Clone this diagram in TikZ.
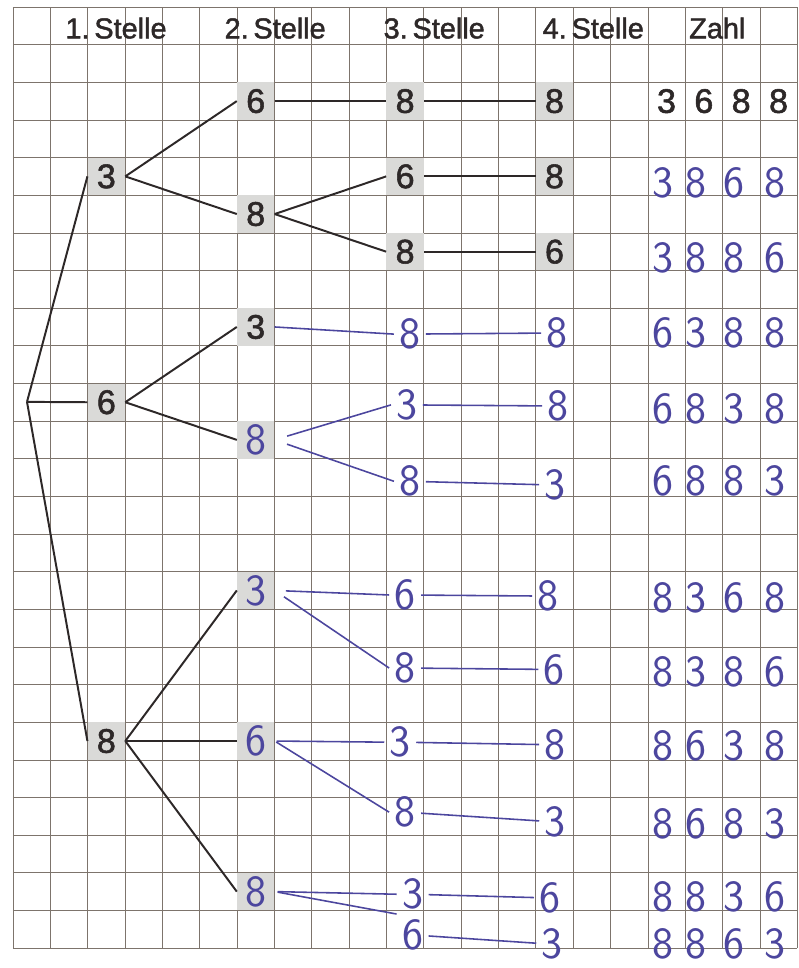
\documentclass[tikz,border=0pt]{standalone}
\usepackage{fontspec}
\setmainfont{Liberation Sans}
\newfontfamily\printfont{Liberation Sans}[FakeBold=1.6]

\definecolor{ink}{RGB}{45,40,40}
\definecolor{pen}{RGB}{76,70,158}
\definecolor{boxgray}{RGB}{218,218,216}
\definecolor{gridcol}{RGB}{125,116,108}

\tikzset{
  gridline/.style={gridcol, line width=0.5pt},
  head/.style={font=\printfont\fontsize{22}{26}\selectfont, text=ink},
  digitbox/.style={fill=boxgray, minimum width=1cm, minimum height=1cm, inner sep=0pt,
    font=\printfont\fontsize{26}{30}\selectfont, text=ink},
  hwbox/.style={digitbox, font=\sffamily\fontsize{34}{36}\selectfont, text=pen},
  hw/.style={inner sep=4pt, font=\sffamily\fontsize{34}{36}\selectfont, text=pen},
  printline/.style={ink, line width=1.5pt},
  penline/.style={pen, line width=1.2pt},
}

\begin{document}
\begin{tikzpicture}[x=1cm, y=-1.008cm]
    \useasboundingbox (-0.348,-0.186) rectangle (21.03,25.53);

    % Grid
    \foreach \c in {0,...,21} \draw[gridline] (\c,0) -- (\c,25);
    \foreach \r in {0,...,25} \draw[gridline] (0,\r) -- (21,\r);

    % Header
    \node[head] (h1) at (2.76,0.56) {1.\,Stelle};
    \node[head] (h2) at (7.02,0.56) {2.\,Stelle};
    \node[head] (h3) at (11.28,0.56) {3.\,Stelle};
    \node[head] (h4) at (15.54,0.56) {4.\,Stelle};
    \node[head] (h5) at (18.86,0.56) {Zahl};

    % 1. Stelle
    \coordinate (root) at (0.375,10.49);
    \node[digitbox] (a3) at (2.5,4.5) {3};
    \node[digitbox] (a6) at (2.5,10.5) {6};
    \node[digitbox] (a8) at (2.5,19.5) {8};

    % 2. Stelle
    \node[digitbox] (b1) at (6.5,2.5) {6};
    \node[digitbox] (b2) at (6.5,5.5) {8};
    \node[digitbox] (b3) at (6.5,8.5) {3};
    \node[hwbox] (b4) at (6.5,11.5) {8};
    \node[hwbox] (b5) at (6.5,15.5) {3};
    \node[hwbox] (b6) at (6.5,19.5) {6};
    \node[hwbox] (b7) at (6.5,23.5) {8};

    % 3. Stelle
    \node[digitbox] (c1) at (10.5,2.5) {8};
    \node[digitbox] (c2) at (10.5,4.5) {6};
    \node[digitbox] (c3) at (10.5,6.5) {8};
    \node[hw] (c4) at (10.63,8.69) {8};
    \node[hw] (c5) at (10.55,10.57) {3};
    \node[hw] (c6) at (10.63,12.6) {8};
    \node[hw] (c7) at (10.5,15.62) {6};
    \node[hw] (c8) at (10.5,17.56) {8};
    \node[hw] (c9) at (10.37,19.53) {3};
    \node[hw] (c10) at (10.5,21.39) {8};
    \node[hw] (c11) at (10.7,23.57) {3};
    \node[hw] (c12) at (10.7,24.65) {6};

    % 4. Stelle
    \node[digitbox] (d1) at (14.5,2.5) {8};
    \node[digitbox] (d2) at (14.5,4.5) {8};
    \node[digitbox] (d3) at (14.5,6.5) {6};
    \node[hw] (d4) at (14.57,8.66) {8};
    \node[hw] (d5) at (14.6,10.6) {8};
    \node[hw] (d6) at (14.52,12.7) {3};
    \node[hw] (d7) at (14.33,15.65) {8};
    \node[hw] (d8) at (14.5,17.6) {6};
    \node[hw] (d9) at (14.52,19.6) {8};
    \node[hw] (d10) at (14.52,21.65) {3};
    \node[hw] (d11) at (14.38,23.67) {6};
    \node[hw] (d12) at (14.44,24.9) {3};

    % Printed lines
    \draw[printline] (root) -- (a3.west);
    \draw[printline] (root) -- (a6.west);
    \draw[printline] (root) -- (a8.west);
    \draw[printline] (a3.east) -- (b1.west);
    \draw[printline] (a3.east) -- (b2.west);
    \draw[printline] (a6.east) -- (b3.west);
    \draw[printline] (a6.east) -- (b4.west);
    \draw[printline] (a8.east) -- (b5.west);
    \draw[printline] (a8.east) -- (b6.west);
    \draw[printline] (a8.east) -- (b7.west);
    \draw[printline] (b1) -- (c1) -- (d1);
    \draw[printline] (b2.east) -- (c2.west);
    \draw[printline] (b2.east) -- (c3.west);
    \draw[printline] (c2) -- (d2);
    \draw[printline] (c3) -- (d3);

    % Pen lines
    \draw[penline] (b3.east) -- (c4.west);
    \draw[penline, shorten <=0.35cm] (b4.east) -- (c5.west);
    \draw[penline, shorten <=0.35cm] (b4.east) -- (c6.west);
    \draw[penline, shorten <=0.3cm] (b5.east) -- (c7.west);
    \draw[penline, shorten <=0.3cm] (b5.east) -- (c8.west);
    \draw[penline, shorten <=0.05cm] (b6.east) -- (c9.west);
    \draw[penline, shorten <=0.05cm] (b6.east) -- (c10.west);
    \draw[penline, shorten <=0.08cm] (b7.east) -- (c11.west);
    \draw[penline, shorten <=0.08cm] (b7.east) -- (c12.north west);
    \draw[penline] (c4) -- (d4);
    \draw[penline] (c5) -- (d5);
    \draw[penline] (c6) -- (d6);
    \draw[penline] (c7) -- (d7);
    \draw[penline] (c8) -- (d8);
    \draw[penline] (c9) -- (d9);
    \draw[penline] (c10) -- (d10);
    \draw[penline] (c11) -- (d11);
    \draw[penline] (c12) -- (d12);

    % Zahl
    \node[font=\printfont\fontsize{26}{30}\selectfont, text=ink] (z1a) at (17.5,2.5) {3};
    \node[font=\printfont\fontsize{26}{30}\selectfont, text=ink] (z1b) at (18.5,2.5) {6};
    \node[font=\printfont\fontsize{26}{30}\selectfont, text=ink] (z1c) at (19.5,2.5) {8};
    \node[font=\printfont\fontsize{26}{30}\selectfont, text=ink] (z1d) at (20.5,2.5) {8};
    \foreach \r/\a/\b/\c/\d [count=\i from 2] in {4.68/3/8/6/8, 6.67/3/8/8/6, 8.66/6/3/8/8,
        10.68/6/8/3/8, 12.6/6/8/8/3, 15.7/8/3/6/8, 17.66/8/3/8/6, 19.63/8/6/3/8,
        21.7/8/6/8/3, 23.65/8/8/3/6, 24.9/8/8/6/3} {
      \node[hw] (z\i a) at (17.4,\r) {\a};
      \node[hw] (z\i b) at (18.3,\r) {\b};
      \node[hw] (z\i c) at (19.3,\r) {\c};
      \node[hw] (z\i d) at (20.4,\r) {\d};
    }
\end{tikzpicture}
\end{document}
